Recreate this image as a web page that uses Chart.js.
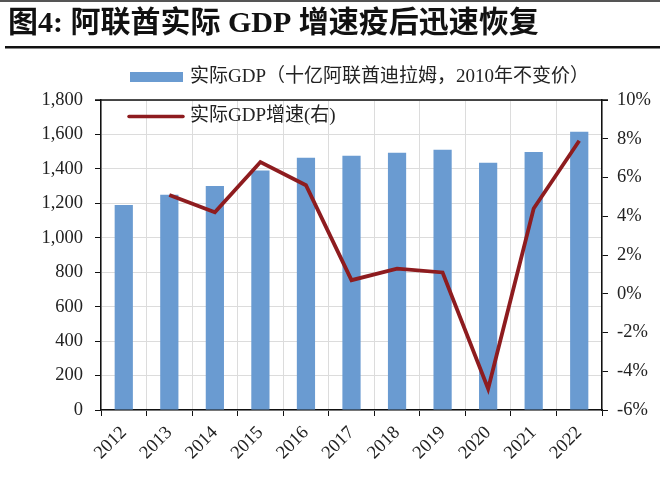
<!DOCTYPE html>
<html>
<head>
<meta charset="utf-8">
<script src="https://cdn.jsdelivr.net/npm/chart.js@4"></script>
<style>
html,body{margin:0;padding:0;background:#fff;}
#wrap{width:660px;height:480px;position:relative;}
</style>
</head>
<body>
<div id="wrap"><canvas id="c" width="660" height="480"></canvas></div>
<script>
const titleText = "图4: 阿联酋实际 GDP 增速疫后迅速恢复";
const years = ["2012","2013","2014","2015","2016","2017","2018","2019","2020","2021","2022"];
const gdpValues = [1190, 1250, 1300, 1390, 1465, 1477, 1494, 1511, 1436, 1498, 1616];
const growthValues = [null, 5.1, 4.2, 6.8, 5.6, 0.7, 1.3, 1.1, -4.9, 4.4, 7.9];
const gdpLabel = "实际GDP（十亿阿联酋迪拉姆，2010年不变价）";
const growthLabel = "实际GDP增速(右)";

const FONT = '"Liberation Serif", "Noto Sans CJK SC", serif';

const decor = {
  id: 'decor',
  beforeDraw(chart) {
    const ctx = chart.ctx;
    ctx.save();
    ctx.fillStyle = '#fff';
    ctx.fillRect(0, 0, chart.width, chart.height);
    ctx.restore();
  },
  afterDraw(chart) {
    const ctx = chart.ctx;
    const a = chart.chartArea;
    ctx.save();
    ctx.fillStyle = '#555';
    ctx.fillRect(0, 0, chart.width, 2);
    ctx.fillStyle = '#111';
    ctx.font = 'bold 30px ' + FONT;
    ctx.textBaseline = 'middle';
    ctx.textAlign = 'left';
    ctx.fillText(titleText, 8, 24);
    ctx.fillRect(5, 46, chart.width - 5, 2.5);
    ctx.strokeStyle = '#111';
    ctx.lineWidth = 1.5;
    ctx.beginPath();
    ctx.moveTo(a.left - 6, a.top);
    ctx.lineTo(a.right + 6, a.top);
    ctx.stroke();
    const ds = chart.data.datasets;
    ctx.font = '19px ' + FONT;
    ctx.textBaseline = 'middle';
    ctx.fillStyle = ds[1].backgroundColor;
    ctx.fillRect(130, 72, 53, 10);
    ctx.fillStyle = '#222';
    ctx.fillText(ds[1].label, 190, 77);
    ctx.strokeStyle = ds[0].borderColor;
    ctx.lineWidth = 3.5;
    ctx.lineCap = 'round';
    ctx.beginPath();
    ctx.moveTo(129, 116.5);
    ctx.lineTo(183, 116.5);
    ctx.stroke();
    ctx.fillText(ds[0].label, 190, 116);
    ctx.restore();
  }
};

new Chart(document.getElementById('c'), {
  data: {
    labels: years,
    datasets: [
      {
        type: 'line',
        label: growthLabel,
        data: growthValues,
        yAxisID: 'y1',
        borderColor: '#8E1C1F',
        backgroundColor: '#8E1C1F',
        borderWidth: 3.8,
        pointRadius: 0,
        tension: 0,
        spanGaps: false,
        order: 0
      },
      {
        type: 'bar',
        label: gdpLabel,
        data: gdpValues,
        yAxisID: 'y',
        backgroundColor: '#6A9BD1',
        borderWidth: 0,
        barPercentage: 0.4,
        categoryPercentage: 1.0,
        order: 1
      }
    ]
  },
  options: {
    responsive: false,
    animation: false,
    devicePixelRatio: 1,
    layout: { padding: { top: 100, left: 0, right: 0, bottom: 0 } },
    plugins: {
      legend: { display: false },
      tooltip: { enabled: false },
      title: { display: false }
    },
    scales: {
      x: {
        offset: true,
        grid: {
          offset: true,
          color: '#dcdcdc',
          lineWidth: 1,
          tickColor: '#111',
          tickLength: 6,
          drawOnChartArea: true
        },
        border: { color: '#111', width: 1.5 },
        ticks: {
          font: { family: FONT, size: 18.5 },
          color: '#222',
          minRotation: 45,
          maxRotation: 45,
          padding: 6
        },
        afterFit(s) { s.height = 70; }
      },
      y: {
        position: 'left',
        min: 0,
        max: 1800,
        ticks: {
          stepSize: 200,
          font: { family: FONT, size: 18.5 },
          color: '#222',
          padding: 12,
          callback: v => v.toLocaleString('en-US')
        },
        grid: { color: '#dcdcdc', tickColor: '#111', tickLength: 6 },
        border: { color: '#111', width: 1.5 },
        afterFit(s) { s.width = 101; }
      },
      y1: {
        position: 'right',
        min: -6,
        max: 10,
        ticks: {
          stepSize: 2,
          font: { family: FONT, size: 18.5 },
          color: '#222',
          padding: 9,
          callback: v => v + '%'
        },
        grid: { drawOnChartArea: false, tickColor: '#111', tickLength: 6 },
        border: { color: '#111', width: 1.5 },
        afterFit(s) { s.width = 58; }
      }
    }
  },
  plugins: [decor]
});
</script>
</body>
</html>
